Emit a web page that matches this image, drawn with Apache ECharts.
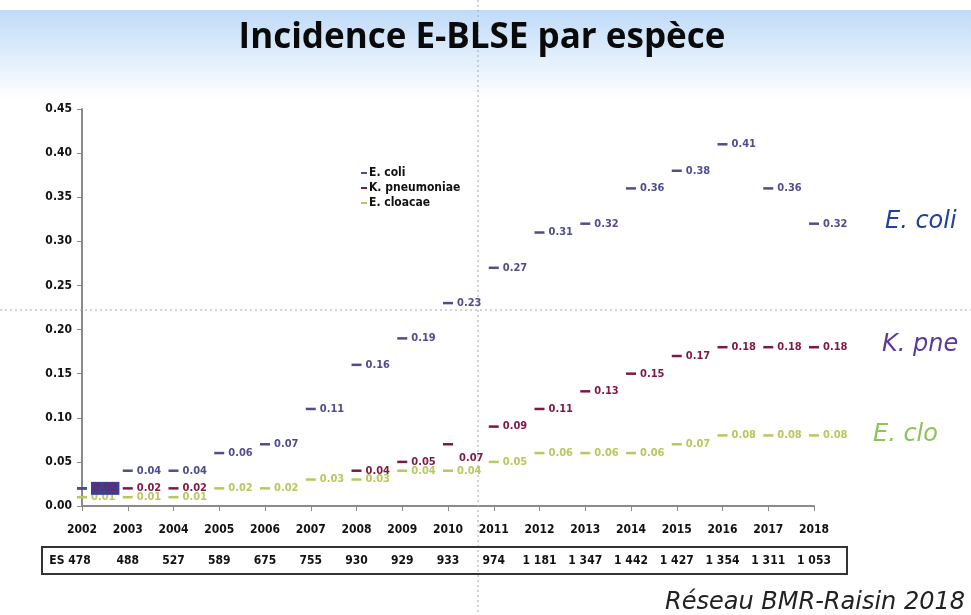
<!DOCTYPE html>
<html>
<head>
<meta charset="utf-8">
<script src="https://cdn.jsdelivr.net/npm/echarts@6/dist/echarts.min.js"></script>
<style>
  html, body { margin: 0; padding: 0; background: #fff; }
  #chart { width: 971px; height: 615px; }
</style>
</head>
<body>
<div id="chart"></div>
<script>
// years on the x axis
var years = ['2002', '2003', '2004', '2005', '2006', '2007', '2008', '2009', '2010',
             '2011', '2012', '2013', '2014', '2015', '2016', '2017', '2018'];
// number of ES per year (table under the axis)
var esCounts = ['ES 478', '488', '527', '589', '675', '755', '930', '929', '933',
                '974', '1 181', '1 347', '1 442', '1 427', '1 354', '1 311', '1 053'];

var eColi = [0.02, 0.04, 0.04, 0.06, 0.07, 0.11, 0.16, 0.19, 0.23,
             0.27, 0.31, 0.32, 0.36, 0.38, 0.41, 0.36, 0.32];
var kPneumoniae = [0.02, 0.02, 0.02, null, null, null, 0.04, 0.05, 0.07,
                   0.09, 0.11, 0.13, 0.15, 0.17, 0.18, 0.18, 0.18];
var eCloacae = [0.01, 0.01, 0.01, 0.02, 0.02, 0.03, 0.03, 0.04, 0.04,
                0.05, 0.06, 0.06, 0.06, 0.07, 0.08, 0.08, 0.08];

var yTicks = { min: 0, max: 0.45, interval: 0.05 };

var colors = { coli: '#4f4d90', kpne: '#7e1846', eclo: '#b6c85e' };

function mkSeries(name, values, color, z) {
    var data = values.map(function (v, i) {
        if (v === null) return [i, null];
        var item = { value: [i, v] };
        // the 2010 K. pneumoniae label sits below its mark in the source
        if (name === 'K. pneumoniae' && years[i] === '2010') {
            item.label = { offset: [2, 14] };
        }
        // 2002 E. coli label is highlighted
        if (name === 'E. coli' && i === 0) {
            item.label = { backgroundColor: '#3e3f94', color: '#6a2a5a', padding: [1, 2] };
        }
        return item;
    });
    return {
        name: name,
        type: 'scatter',
        z: z,
        symbol: 'rect',
        symbolSize: [10, 2.5],
        itemStyle: { color: color, opacity: 1 },
        data: data,
        label: {
            show: true,
            position: 'right',
            distance: 4,
            color: color,
            fontFamily: 'DejaVu Sans Condensed',
            fontWeight: 'bold',
            fontSize: 11,
            formatter: function (p) { return p.value[1].toFixed(2); }
        }
    };
}

var chart = echarts.init(document.getElementById('chart'));

var option = {
    animation: false,
    backgroundColor: '#ffffff',
    title: {
        text: 'Incidence E-BLSE par espèce',
        left: 477,
        textAlign: 'center',
        top: 16,
        textStyle: { fontFamily: 'Open Sans', fontWeight: 'bold', fontSize: 35, color: '#0a0a0a' }
    },
    legend: {
        orient: 'vertical',
        left: 356,
        top: 162,
        itemGap: 3,
        itemWidth: 6,
        itemHeight: 2,
        icon: 'rect',
        data: ['E. coli', 'K. pneumoniae', 'E. cloacae'],
        textStyle: { fontFamily: 'DejaVu Sans Condensed', fontWeight: 'bold', fontSize: 12, color: '#111', padding: [0, 0, 0, -3] }
    },
    grid: { left: 82, right: 157, top: 109, bottom: 109, containLabel: false },
    xAxis: [{
        type: 'category',
        data: years,
        boundaryGap: false,
        axisLine: { lineStyle: { color: '#8a8a8a', width: 2 } },
        axisTick: { show: true, alignWithLabel: true, length: 5, lineStyle: { color: '#8a8a8a' } },
        axisLabel: { color: '#111', fontFamily: 'DejaVu Sans Condensed', fontWeight: 'bold', fontSize: 12, margin: 18, interval: 0 },
        splitLine: { show: false }
    }, {
        type: 'category',
        data: esCounts,
        position: 'bottom',
        offset: 41,
        boundaryGap: false,
        axisLine: { show: false },
        axisTick: { show: false },
        axisLabel: {
            color: '#111', fontFamily: 'DejaVu Sans Condensed', fontWeight: 'bold', fontSize: 12, interval: 0,
            formatter: function (v) { return v.indexOf('ES') === 0 ? '{first|' + v + '}' : v; },
            rich: { first: { color: '#111', fontFamily: 'DejaVu Sans Condensed', fontWeight: 'bold', fontSize: 12, padding: [0, 24, 0, 0] } }
        }
    }],
    yAxis: {
        type: 'value',
        min: yTicks.min,
        max: yTicks.max,
        interval: yTicks.interval,
        axisLine: { show: true, lineStyle: { color: '#8a8a8a', width: 2 } },
        axisTick: { show: true, length: 5, lineStyle: { color: '#8a8a8a' } },
        axisLabel: {
            color: '#111', fontFamily: 'DejaVu Sans Condensed', fontWeight: 'bold', fontSize: 12, margin: 10,
            formatter: function (v) { return v.toFixed(2); }
        },
        splitLine: { show: false }
    },
    series: [
        mkSeries('E. cloacae', eCloacae, colors.eclo, 2),
        mkSeries('K. pneumoniae', kPneumoniae, colors.kpne, 3),
        mkSeries('E. coli', eColi, colors.coli, 4)
    ],
    graphic: [
        {
            type: 'rect', z: -10, silent: true,
            shape: { x: 0, y: 10, width: 971, height: 90 },
            style: {
                fill: new echarts.graphic.LinearGradient(0, 0, 0, 1, [
                    { offset: 0, color: '#c0dbf8' },
                    { offset: 1, color: '#ffffff' }
                ])
            }
        },
        {
            type: 'rect', z: 5, silent: true,
            shape: { x: 42, y: 547, width: 805, height: 27 },
            style: { fill: 'none', stroke: '#333', lineWidth: 2 }
        },
        {
            type: 'line', z: 1, silent: true,
            shape: { x1: 478, y1: 0, x2: 478, y2: 615 },
            style: { stroke: '#a0a8b0', lineWidth: 1, lineDash: [2, 3] }
        },
        {
            type: 'line', z: 1, silent: true,
            shape: { x1: 0, y1: 310, x2: 971, y2: 310 },
            style: { stroke: '#a0a8b0', lineWidth: 1, lineDash: [2, 3] }
        },
        {
            type: 'text', left: 885, top: 210,
            style: { text: 'E. coli', fill: '#23409e', font: 'italic 24px "DejaVu Sans"' }
        },
        {
            type: 'text', left: 882, top: 333,
            style: { text: 'K. pne', fill: '#5b3a9c', font: 'italic 24px "DejaVu Sans"' }
        },
        {
            type: 'text', left: 873, top: 423,
            style: { text: 'E. clo', fill: '#8fc25a', font: 'italic 24px "DejaVu Sans"' }
        },
        {
            type: 'text', right: 6, top: 591,
            style: { text: 'Réseau BMR-Raisin 2018', fill: '#222', font: 'italic 24px "DejaVu Sans"' }
        }
    ]
};

chart.setOption(option);
</script>
</body>
</html>
